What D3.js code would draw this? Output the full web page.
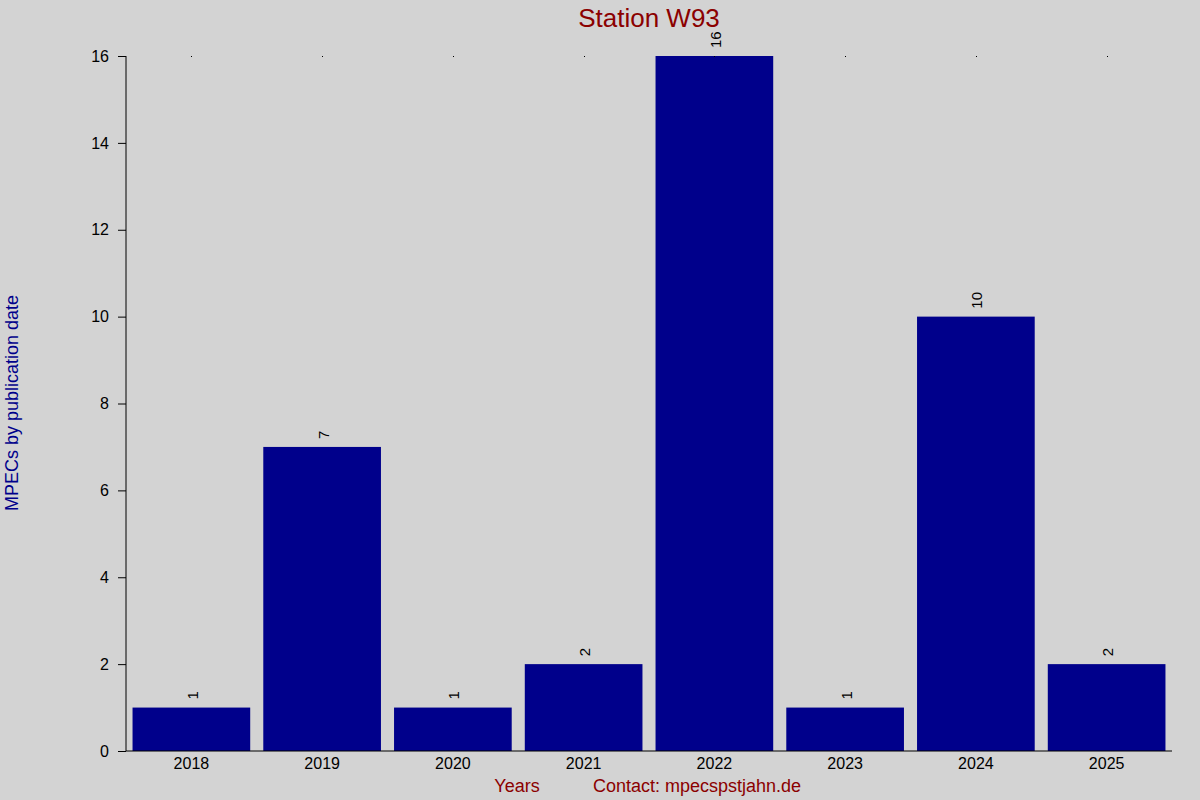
<!DOCTYPE html>
<html><head><meta charset="utf-8">
<script src="https://cdn.jsdelivr.net/npm/d3@7"></script>
<style>html,body{margin:0;padding:0;background:#d3d3d3;}svg{display:block;font-family:"Liberation Sans",Arial,sans-serif;}</style>
</head><body>
<svg id="c" width="1200" height="800"></svg>
<script>
const years = ["2018","2019","2020","2021","2022","2023","2024","2025"];
const counts = [1,7,1,2,16,1,10,2];
const yTicks = [0,2,4,6,8,10,12,14,16];

const W = 1200, H = 800;
const mLeft = 126, mRight = 1172, mTop = 56, mBottom = 751;
const svg = d3.select("#c");
svg.append("rect").attr("width", W).attr("height", H).attr("fill", "#d3d3d3");

const x = d3.scaleBand().domain(years).range([mLeft, mRight]).paddingInner(0.1).paddingOuter(0.05);
const y = d3.scaleLinear().domain([0, 16]).range([mBottom, mTop]);

// bars
svg.append("g").selectAll("rect").data(years).join("rect")
  .attr("x", d => x(d)).attr("width", x.bandwidth())
  .attr("y", (d,i) => y(counts[i])).attr("height", (d,i) => y(0) - y(counts[i]))
  .attr("fill", "#00008b");

// value labels
svg.append("g").selectAll("text").data(years).join("text")
  .attr("transform", (d,i) => `translate(${x(d) + x.bandwidth()/2 + 6.5},${y(counts[i]) - 8}) rotate(-90)`)
  .attr("text-anchor", "start")
  .attr("font-size", 15).attr("fill", "#000")
  .text((d,i) => counts[i]);

// y axis
const yAxis = d3.axisLeft(y).tickValues(yTicks).tickSize(8).tickPadding(9);
const gy = svg.append("g").attr("transform", `translate(${mLeft},0)`).call(yAxis);
gy.select(".domain").attr("stroke", "#000").attr("d", `M0,${mTop}V${mBottom}`);
gy.selectAll(".tick line").attr("stroke", "#000");
gy.selectAll(".tick text").attr("font-size", 16).attr("fill", "#000").attr("font-family", "Liberation Sans, Arial, sans-serif");

// x axis
const xAxis = d3.axisBottom(x).tickSize(0).tickPadding(7);
const gx = svg.append("g").attr("transform", `translate(0,${mBottom})`).call(xAxis);
gx.select(".domain").attr("stroke", "#000").attr("d", `M${mLeft},0H${mRight}`);
gx.selectAll(".tick text").attr("font-size", 16).attr("fill", "#000").attr("font-family", "Liberation Sans, Arial, sans-serif");

// top dots
svg.append("g").selectAll("rect").data(years).join("rect")
  .attr("x", d => Math.round(x(d) + x.bandwidth()/2)).attr("y", mTop)
  .attr("width", 1).attr("height", 1).attr("fill", "#000")
  .attr("shape-rendering", "crispEdges");

// title
svg.append("text").attr("x", 649).attr("y", 27).attr("text-anchor", "middle")
  .attr("font-size", 26).attr("fill", "#8b0000").text("Station W93");

// y label
svg.append("text").attr("transform", `translate(18,403) rotate(-90)`).attr("text-anchor", "middle")
  .attr("font-size", 18).attr("fill", "#00008b").text("MPECs by publication date");

// bottom labels
svg.append("text").attr("x", 517).attr("y", 792).attr("text-anchor", "middle")
  .attr("font-size", 18).attr("fill", "#8b0000").text("Years");
svg.append("text").attr("x", 697).attr("y", 792).attr("text-anchor", "middle")
  .attr("font-size", 18).attr("fill", "#8b0000").text("Contact: mpecspstjahn.de");
</script>
</body></html>
